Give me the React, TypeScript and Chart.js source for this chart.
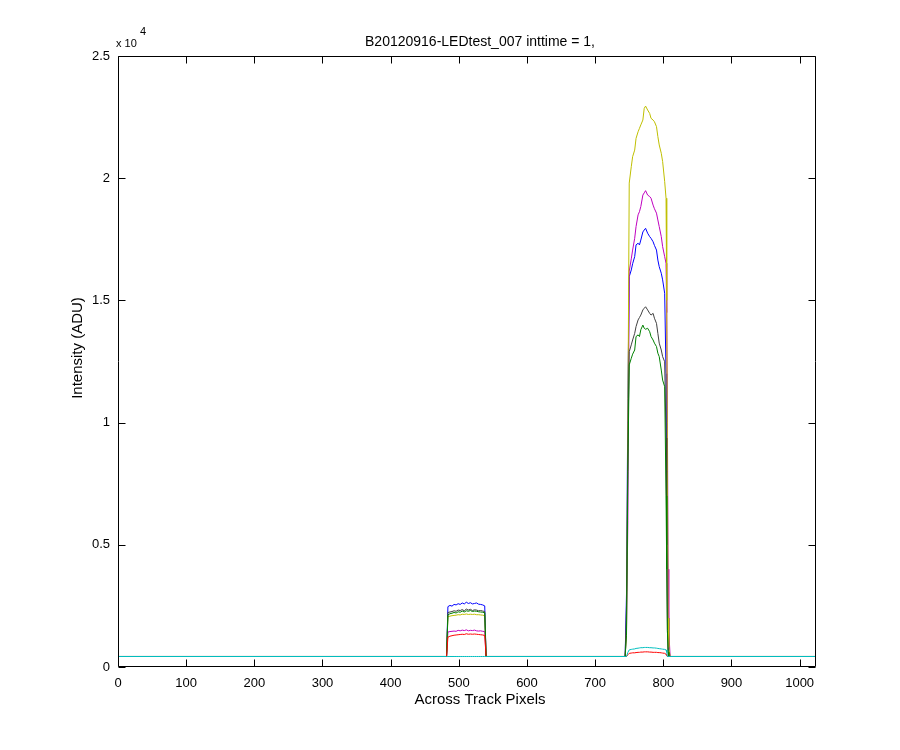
import React, { useEffect, useRef } from "react";
import { Chart, registerables } from "chart.js";

Chart.register(...registerables);

const TITLE = "B20120916-LEDtest_007 inttime = 1,";
const X_LABEL = "Across Track Pixels";
const Y_LABEL = "Intensity (ADU)";
const Y_MULT_TEXT = "x 10";
const Y_EXP_TEXT = "4";

const X_MIN = 0;
const X_MAX = 1024;
const X_STEP = 100;
const Y_MIN = 0;
const Y_MAX = 25000;
const Y_STEP = 5000;
const Y_SCALE = 10000;

const BASELINE = 430;

// pixel positions across track where the small (left) illuminated block is sampled
const smallX = [482, 484, 487, 490, 493, 496, 499, 502, 505, 508, 511, 514, 517, 520, 523, 526, 529, 532, 535, 538, 540];
// pixel positions across track where the large (right) illuminated block is sampled
const bigX = [744, 746, 748, 750, 753, 755, 758, 760, 763, 765, 767, 770, 772, 774, 777, 780, 782, 785, 787, 790, 792, 794, 797, 799, 802, 804, 805, 806, 807, 808, 810];

const blueSmall = [430, 2470, 2520, 2490, 2560, 2540, 2590, 2560, 2620, 2580, 2650, 2600, 2630, 2580, 2600, 2620, 2570, 2560, 2540, 2500, 430];
const greenSmall = [430, 2130, 2180, 2200, 2230, 2210, 2260, 2240, 2290, 2250, 2300, 2280, 2310, 2270, 2290, 2280, 2260, 2250, 2240, 2220, 430];
const redSmall = [430, 1220, 1260, 1280, 1300, 1310, 1320, 1330, 1340, 1330, 1360, 1340, 1350, 1340, 1350, 1340, 1330, 1320, 1310, 1290, 430];
const cyanSmall = [430, 430, 430, 430, 430, 430, 430, 430, 430, 430, 430, 430, 430, 430, 430, 430, 430, 430, 430, 430, 430];
const magentaSmall = [430, 1430, 1450, 1460, 1470, 1460, 1500, 1480, 1510, 1490, 1520, 1480, 1500, 1490, 1510, 1480, 1470, 1480, 1460, 1450, 430];
const yellowSmall = [430, 2060, 2080, 2100, 2110, 2120, 2140, 2130, 2160, 2150, 2170, 2150, 2160, 2150, 2160, 2140, 2140, 2130, 2120, 2100, 430];
const blackSmall = [430, 2230, 2250, 2270, 2300, 2280, 2330, 2310, 2350, 2300, 2370, 2330, 2360, 2310, 2340, 2330, 2300, 2310, 2290, 2270, 430];

const blueBig = [430, 3000, 11000, 15970, 16245, 16500, 16790, 17270, 17340, 17270, 17470, 17800, 17880, 17950, 17750, 17610, 17540, 17400, 17250, 17060, 16650, 16380, 16110, 15840, 15290, 12000, 9000, 5000, 2000, 700, 430];
const greenBig = [430, 1300, 8000, 12360, 12630, 12800, 12970, 13520, 13590, 13520, 13800, 13990, 13860, 13820, 13860, 13720, 13520, 13380, 13250, 13110, 12840, 12700, 12150, 11740, 11470, 7000, 4000, 1500, 600, 430, 430];
const redBig = [430, 430, 500, 560, 570, 580, 580, 590, 600, 600, 610, 610, 620, 620, 620, 610, 610, 600, 600, 600, 590, 590, 580, 570, 560, 520, 470, 430, 430, 430, 430];
const cyanBig = [430, 430, 600, 700, 720, 730, 740, 760, 770, 780, 790, 790, 800, 800, 800, 790, 790, 780, 780, 770, 760, 750, 740, 730, 720, 700, 600, 430, 430, 430, 430];
const magentaBig = [430, 1500, 6000, 16200, 16700, 17060, 17540, 18020, 18500, 18630, 18840, 19310, 19400, 19490, 19310, 19250, 19180, 18900, 18750, 18570, 18290, 18020, 17610, 17200, 16790, 16520, 14500, 10000, 4000, 1500, 430];
const yellowBig = [430, 1500, 10000, 19800, 20470, 20880, 21150, 21630, 21900, 22040, 22180, 22380, 22860, 22950, 22790, 22650, 22450, 22380, 22310, 22110, 21700, 21360, 21020, 20680, 19860, 19180, 15000, 8000, 2000, 800, 430];
const blackBig = [430, 2500, 9000, 12900, 13180, 13380, 13650, 13930, 14200, 14300, 14400, 14610, 14680, 14740, 14610, 14470, 14400, 14470, 14270, 14060, 13650, 13250, 12970, 12700, 12490, 9370, 5000, 1500, 600, 430, 430];

// drawing order: first entry ends up on top
const SERIES_NAMES = ["cyan", "red", "green", "black", "yellow", "magenta", "blue"];
const SERIES_COLORS = ["#00BFBF", "#FF0000", "#008000", "#404040", "#BFBF00", "#BF00BF", "#0000FF"];
const SERIES_SMALL = [cyanSmall, redSmall, greenSmall, blackSmall, yellowSmall, magentaSmall, blueSmall];
const SERIES_BIG = [cyanBig, redBig, greenBig, blackBig, yellowBig, magentaBig, blueBig];

const FONT = "'Liberation Sans', Arial, Helvetica, sans-serif";

function buildPoints(small: number[], big: number[]) {
  const pts: { x: number; y: number }[] = [{ x: X_MIN, y: BASELINE }];
  smallX.forEach((x, i) => pts.push({ x, y: small[i] }));
  bigX.forEach((x, i) => pts.push({ x, y: big[i] }));
  pts.push({ x: X_MAX, y: BASELINE });
  return pts;
}

const decorPlugin = {
  id: "matlabDecor",
  afterDraw(chart: any) {
    const { ctx, chartArea: a, scales } = chart;
    const L = 7;
    const left = Math.round(a.left) + 0.5;
    const right = Math.round(a.right) - 0.5;
    const top = Math.round(a.top) + 0.5;
    const bottom = Math.round(a.bottom) - 0.5;
    ctx.save();
    ctx.strokeStyle = "#000";
    ctx.lineWidth = 1;
    ctx.beginPath();
    ctx.rect(left, top, right - left, bottom - top);
    scales.x.ticks.forEach((t: any) => {
      const px = Math.round(scales.x.getPixelForValue(t.value)) + 0.5;
      ctx.moveTo(px, bottom);
      ctx.lineTo(px, bottom - L);
      ctx.moveTo(px, top);
      ctx.lineTo(px, top + L);
    });
    scales.y.ticks.forEach((t: any) => {
      const py = Math.round(scales.y.getPixelForValue(t.value)) + 0.5;
      ctx.moveTo(left, py);
      ctx.lineTo(left + L, py);
      ctx.moveTo(right, py);
      ctx.lineTo(right - L, py);
    });
    ctx.stroke();

    ctx.fillStyle = "#000";
    ctx.textAlign = "center";
    ctx.textBaseline = "middle";
    ctx.font = `14px ${FONT}`;
    ctx.fillText(TITLE, 480, 42);
    ctx.font = `15px ${FONT}`;
    ctx.fillText(X_LABEL, 480, 700);
    ctx.save();
    ctx.translate(78, 348);
    ctx.rotate(-Math.PI / 2);
    ctx.fillText(Y_LABEL, 0, 0);
    ctx.restore();

    ctx.textAlign = "left";
    ctx.textBaseline = "alphabetic";
    ctx.font = `11px ${FONT}`;
    ctx.fillText(Y_MULT_TEXT, 116, 47);
    ctx.fillText(Y_EXP_TEXT, 140, 35);
    ctx.restore();
  },
};

export default function App() {
  const ref = useRef<HTMLCanvasElement | null>(null);

  useEffect(() => {
    if (!ref.current) return;
    const datasets = SERIES_NAMES.map((name, i) => ({
      label: name,
      data: buildPoints(SERIES_SMALL[i], SERIES_BIG[i]),
      borderColor: SERIES_COLORS[i],
      backgroundColor: SERIES_COLORS[i],
      borderWidth: 1,
      pointRadius: 0,
      tension: 0,
      fill: false,
    }));
    const chart = new Chart(ref.current, {
      type: "line",
      data: { datasets },
      options: {
        animation: false,
        responsive: false,
        parsing: false as any,
        layout: { padding: { top: 56, right: 84, left: 0, bottom: 0 } },
        plugins: {
          legend: { display: false },
          title: { display: false },
          tooltip: { enabled: false },
        },
        scales: {
          x: {
            type: "linear",
            min: X_MIN,
            max: X_MAX,
            grid: { display: false, drawTicks: false },
            border: { display: false },
            ticks: {
              stepSize: X_STEP,
              includeBounds: false,
              maxRotation: 0,
              autoSkip: false,
              padding: 9,
              color: "#000",
              font: { family: FONT, size: 13 },
              callback: (v: any) => String(v),
            },
            afterFit: (s: any) => {
              s.height = 83;
            },
          },
          y: {
            type: "linear",
            min: Y_MIN,
            max: Y_MAX,
            grid: { display: false, drawTicks: false },
            border: { display: false },
            ticks: {
              stepSize: Y_STEP,
              includeBounds: false,
              padding: 8,
              color: "#000",
              font: { family: FONT, size: 13 },
              callback: (v: any) => String(Number(v) / Y_SCALE),
            },
            afterFit: (s: any) => {
              s.width = 118;
            },
          },
        },
      },
      plugins: [decorPlugin],
    });
    return () => chart.destroy();
  }, []);

  return (
    <div style={{ position: "absolute", left: 0, top: 0, width: 900, height: 750, background: "#fff" }}>
      <canvas ref={ref} width={900} height={750} style={{ display: "block" }} />
    </div>
  );
}
